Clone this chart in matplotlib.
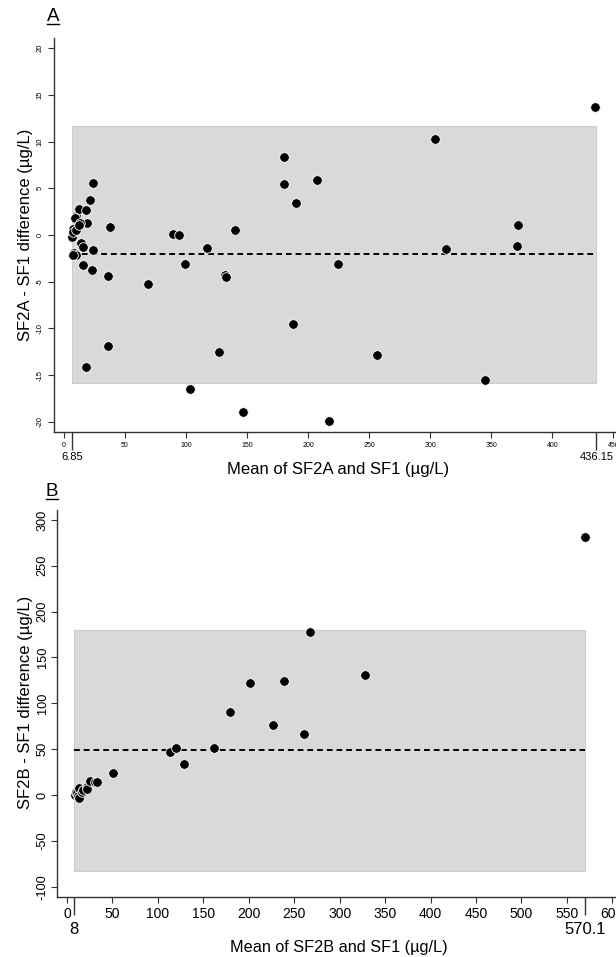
import matplotlib
matplotlib.use("Agg")
import matplotlib.pyplot as plt
from matplotlib.patches import Rectangle
from matplotlib.lines import Line2D

plt.rcParams['font.family'] = ['Liberation Sans', 'DejaVu Sans']

# ---------------- Panel A data ----------------
a_mean = [6.6, 7.1, 7.6, 9.8, 9.8, 9.3, 12.5, 18.0, 18.6, 13.1, 12.0, 21.3, 23.8,
          37.9, 13.7, 15.8, 24.0, 8.2, 9.8, 7.1, 15.8, 22.9, 36.0, 35.8, 17.8,
          69.1, 89.5, 94.5, 98.9, 103.2, 117.4, 127.0, 132.2, 133.0, 140.3, 146.6,
          180.2, 180.5, 187.6, 189.8, 207.3, 216.8, 224.7, 256.1, 303.9, 313.0,
          345.2, 370.8, 372.2, 435.2]
a_diff = [-0.25, 0.6, 0.35, 0.53, 2.0, 1.85, 2.75, 2.64, 1.3, 1.3, 1.07, 3.75, 5.6,
          0.82, -0.9, -1.25, -1.6, -1.96, -2.14, -2.18, -3.2, -3.7, -4.4, -11.9, -14.1,
          -5.2, 0.1, 0.0, -3.1, -16.5, -1.4, -12.5, -4.25, -4.46, 0.54, -19.0,
          5.5, 8.39, -9.5, 3.39, 5.9, -19.9, -3.1, -12.9, 10.28, -1.5,
          -15.57, -1.14, 1.07, 13.7]
a_range = [6.85, 436.15]
a_bias = -2.05
a_loa = [-15.85, 11.7]
a_xticks = list(range(0, 451, 50))
a_yticks = list(range(-20, 21, 5))

# ---------------- Panel B data ----------------
b_mean = [8.5, 9.5, 10.7, 12.0, 12.9, 13.5, 16.2, 17.9, 21.7, 21.7, 25.3, 30.8, 33.0,
          50.3, 113.3, 119.9, 128.4, 161.7, 179.0, 201.3, 226.3, 239.1, 260.7,
          267.3, 328.2, 569.8]
b_diff = [0.0, 3.0, 1.8, -1.5, -2.9, 7.3, 3.6, 5.5, 9.1, 7.0, 15.5, 14.0, 14.5,
          23.6, 47.3, 51.6, 33.4, 51.6, 90.9, 122.1, 76.3, 124.3, 66.9,
          178.0, 130.9, 281.7]
b_range = [8, 570.1]
b_bias = 49
b_loa = [-83, 180]
b_xticks = list(range(0, 601, 50))
b_yticks = list(range(-100, 301, 50))

W, H = 616, 957
fig = plt.figure(figsize=(W / 100, H / 100), dpi=100)

def fx(px):
    return px / W

def fy(py):
    return 1 - py / H

axA = fig.add_axes([fx(54), fy(432), fx(616) - fx(54), fy(38) - fy(432)])
axB = fig.add_axes([fx(57), fy(897), fx(616) - fx(57), fy(510) - fy(897)])

def panel(ax, xm, yd, rng, bias, loa, xt, yt, xlim, ylim,
          xlab, ylab, xt_size, yt_size, rng_size, rng_labels,
          xpad, ypad, rlen, rpad, lab_size):
    ax.add_patch(Rectangle((rng[0], loa[0]), rng[1] - rng[0], loa[1] - loa[0],
                           facecolor='#d9d9d9', edgecolor='#cdcdcd', lw=0.8, zorder=1))
    ax.plot(rng, [bias, bias], color='black', lw=1.4, linestyle=(0, (3, 2)), zorder=2)
    ax.scatter(xm, yd, s=48, color='black', edgecolors='white', linewidths=0.6,
               zorder=3, clip_on=False)
    ax.set_xlim(*xlim)
    ax.set_ylim(*ylim)
    for s in ['top', 'right']:
        ax.spines[s].set_visible(False)
    for s in ['left', 'bottom']:
        ax.spines[s].set_color('#333333')
        ax.spines[s].set_linewidth(1.0)
    ax.set_xticks(xt)
    ax.set_xticklabels([str(v) for v in xt])
    ax.set_yticks(yt)
    ax.set_yticklabels([str(v) for v in yt], rotation=90, va='center')
    ax.tick_params(axis='x', which='major', labelsize=xt_size, length=4.5, width=0.8,
                   color='#333333', pad=xpad)
    ax.tick_params(axis='y', which='major', labelsize=yt_size, length=4.5, width=0.8,
                   color='#333333', pad=ypad)
    ax.set_xticks(rng, labels=rng_labels, minor=True)
    ax.tick_params(axis='x', which='minor', length=rlen, width=1.0, color='#333333',
                   labelsize=rng_size, pad=rpad)
    ax.set_xlabel(xlab, fontsize=lab_size)
    ax.set_ylabel(ylab, fontsize=12)

panel(axA, a_mean, a_diff, a_range, a_bias, a_loa, a_xticks, a_yticks,
      (-8.2, 452.2), (-21.1, 21.1),
      'Mean of SF2A and SF1 (µg/L)', 'SF2A - SF1 difference (µg/L)',
      5, 5.5, 8, ['6.85', '436.15'], 2.5, 3, 13, 1.5, 12)
axA.xaxis.set_label_coords(0.506, -0.076)
axA.yaxis.set_label_coords(-0.037, 0.5)

panel(axB, b_mean, b_diff, b_range, b_bias, b_loa, b_xticks, b_yticks,
      (-11, 604), (-111.2, 310.8),
      'Mean of SF2B and SF1 (µg/L)', 'SF2B - SF1 difference (µg/L)',
      10, 9.2, 12, ['8', '570.1'], 3, 1.5, 13, 5, 11.7)
axB.xaxis.set_label_coords(0.504, -0.111)
axB.yaxis.set_label_coords(-0.043, 0.504)

# Panel letters with underline
for label, xp, yp in [('A', 53, 21), ('B', 52, 496)]:
    fig.text(fx(xp), fy(yp), label, fontsize=13.5, ha='center', va='baseline')
    fig.add_artist(Line2D([fx(xp - 6), fx(xp + 6)], [fy(yp + 2.5), fy(yp + 2.5)],
                          color='black', lw=1.0))

fig.savefig('out.png', dpi=100)
